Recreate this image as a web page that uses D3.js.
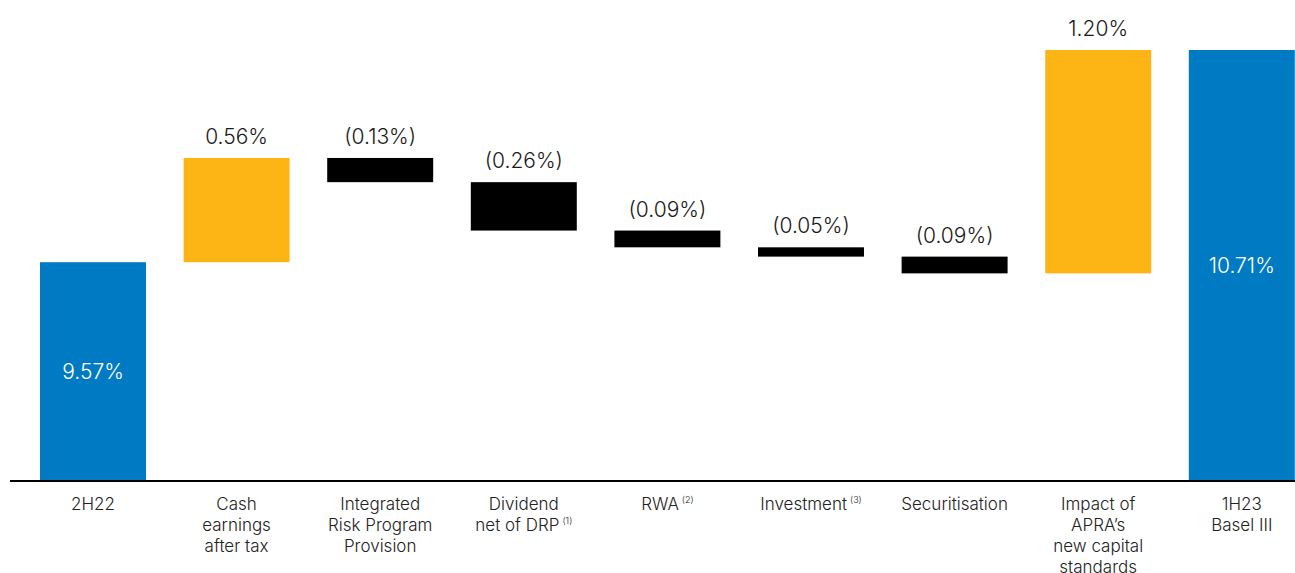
<!DOCTYPE html>
<html>
<head>
<meta charset="utf-8">
<script src="https://cdn.jsdelivr.net/npm/d3@7"></script>
<style>
  body { margin: 0; background: #fff; }
  svg { display: block; font-family: Inter, "Open Sans", sans-serif; font-weight: 300; }
</style>
</head>
<body>
<div id="vis-container"></div>
<script>
// chart data
var categories = ["2H22", "Cash earnings after tax", "Integrated Risk Program Provision",
  "Dividend net of DRP", "RWA", "Investment", "Securitisation",
  "Impact of APRA's new capital standards", "1H23 Basel III"];
var labelLines = [["2H22"], ["Cash", "earnings", "after tax"], ["Integrated", "Risk Program", "Provision"],
  ["Dividend", "net of DRP|(1)"], ["RWA|(2)"], ["Investment|(3)"], ["Securitisation"],
  ["Impact of", "APRA\u2019s", "new capital", "standards"], ["1H23", "Basel III"]];
var values = [9.57, 0.56, -0.13, -0.26, -0.09, -0.05, -0.09, 1.20, 10.71];
var kinds = ["total", "step", "step", "step", "step", "step", "step", "step", "total"];
var valueLabels = ["9.57%", "0.56%", "(0.13%)", "(0.26%)", "(0.09%)", "(0.05%)", "(0.09%)", "1.20%", "10.71%"];

var width = 1295, height = 573;
var baseY = 480;

var colors = { total: "#007AC3", up: "#FDB515", down: "#000000" };

var svg = d3.select("#vis-container").append("svg")
  .attr("width", width).attr("height", height);

// the axis does not start at zero
var y = d3.scaleLinear().domain([8.4, 10.71]).range([baseY, 50]);
var x = d3.scaleBand().domain(categories)
  .range([21.2, 21.2 + 9 * 143.6])
  .paddingInner(0.262).paddingOuter(0.131);

// running totals for the waterfall
var running = 0;
var bars = values.map(function(v, i) {
  var b;
  if (kinds[i] == "total") {
    b = { lo: y.domain()[0], hi: v, kind: "total" };
    running = v;
  } else {
    var start = running;
    running = running + v;
    b = { lo: Math.min(start, running), hi: Math.max(start, running), kind: v >= 0 ? "up" : "down" };
  }
  b.cat = categories[i];
  b.label = valueLabels[i];
  return b;
});

var g = svg.append("g");

g.selectAll("rect.bar").data(bars).enter().append("rect")
  .attr("class", "bar")
  .attr("x", function(d) { return x(d.cat); })
  .attr("width", x.bandwidth())
  .attr("y", function(d) { return y(d.hi); })
  .attr("height", function(d) { return y(d.lo) - y(d.hi); })
  .attr("fill", function(d) { return colors[d.kind]; });

// value labels
g.selectAll("text.val").data(bars).enter().append("text")
  .attr("class", "val")
  .attr("x", function(d) { return x(d.cat) + x.bandwidth() / 2; })
  .attr("y", function(d) {
    if (d.kind == "total") return (y(d.hi) + y(d.lo)) / 2 + 8;
    return y(d.hi) - 14;
  })
  .attr("text-anchor", "middle")
  .attr("font-size", 21)
  .attr("fill", function(d) { return d.kind == "total" ? "#ffffff" : "#1a1a1a"; })
  .text(function(d) { return d.label; });

// baseline
svg.append("line")
  .attr("x1", 10).attr("x2", width)
  .attr("y1", baseY + 1).attr("y2", baseY + 1)
  .attr("stroke", "#000").attr("stroke-width", 2);

// category labels, "|" splits off a superscript note
categories.forEach(function(c, i) {
  var t = svg.append("text")
    .attr("x", x(c) + x.bandwidth() / 2)
    .attr("y", 510)
    .attr("text-anchor", "middle")
    .attr("font-size", 17)
    .attr("fill", "#222");
  labelLines[i].forEach(function(line, j) {
    var parts = line.split("|");
    t.append("tspan")
      .attr("x", x(c) + x.bandwidth() / 2)
      .attr("dy", j == 0 ? 0 : 21)
      .text(parts[0]);
    if (parts[1]) {
      t.append("tspan").attr("font-size", 9).attr("dx", 3).attr("dy", -7).text(parts[1]);
      t.append("tspan").attr("font-size", 17).attr("dy", 7).text("");
    }
  });
});
</script>
</body>
</html>
